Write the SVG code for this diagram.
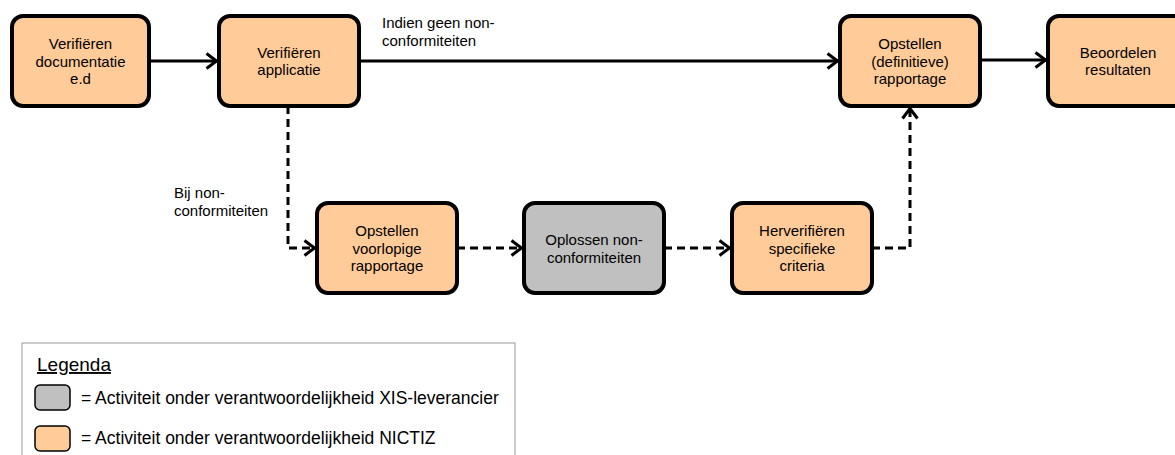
<svg xmlns="http://www.w3.org/2000/svg" width="1175" height="455" viewBox="0 0 1175 455">
<style>
.n rect{stroke:#000;stroke-width:4}
.o{fill:#FFCC99}
.g{fill:#C0C0C0}
text{font-family:"Liberation Sans",Arial,sans-serif;fill:#000}
.t{font-size:15px;text-anchor:middle}
.l{font-size:15px}
.lg{font-size:17.5px}
.c{fill:none;stroke:#000;stroke-width:3}
.d{stroke-dasharray:8 5}
</style>
<defs>
<marker id="a" viewBox="0 0 13 18" refX="12" refY="9" markerWidth="13" markerHeight="18" markerUnits="userSpaceOnUse" orient="auto">
<path d="M1.5,1.5 L11.5,9 L1.5,16.5" fill="none" stroke="#000" stroke-width="3"/>
</marker>
</defs>
<rect width="1175" height="455" fill="#fff"/>
<g id="connectors">
<path class="c" d="M149,61 H217" marker-end="url(#a)"/>
<path class="c" d="M359,61 H838" marker-end="url(#a)"/>
<path class="c" d="M980,60 H1046" marker-end="url(#a)"/>
<path class="c d" d="M288,106 V248 H315" marker-end="url(#a)"/>
<path class="c d" d="M457,248 H522" marker-end="url(#a)"/>
<path class="c d" d="M664,248 H730" marker-end="url(#a)"/>
<path class="c d" d="M872,248 H910 V108" marker-end="url(#a)"/>
<text class="l" x="382" y="28">Indien geen non-</text>
<text class="l" x="382" y="46">conformiteiten</text>
<text class="l" x="174" y="198">Bij non-</text>
<text class="l" x="174" y="216">conformiteiten</text>
</g>
<g id="n1" class="n"><rect class="o" x="12" y="16" width="137" height="90" rx="11"/>
<text class="t" x="80.5" y="49">Verifiëren</text><text class="t" x="80.5" y="66.5">documentatie</text><text class="t" x="80.5" y="84">e.d</text></g>
<g id="n2" class="n"><rect class="o" x="219" y="16" width="140" height="90" rx="11"/>
<text class="t" x="289" y="57.5">Verifiëren</text><text class="t" x="289" y="75">applicatie</text></g>
<g id="n3" class="n"><rect class="o" x="840" y="16" width="140" height="90" rx="11"/>
<text class="t" x="910" y="49">Opstellen</text><text class="t" x="910" y="66.5">(definitieve)</text><text class="t" x="910" y="84">rapportage</text></g>
<g id="n4" class="n"><rect class="o" x="1048" y="16" width="140" height="90" rx="11"/>
<text class="t" x="1118" y="57.5">Beoordelen</text><text class="t" x="1118" y="75">resultaten</text></g>
<g id="n5" class="n"><rect class="o" x="317" y="203" width="140" height="90" rx="11"/>
<text class="t" x="387" y="236">Opstellen</text><text class="t" x="387" y="253.5">voorlopige</text><text class="t" x="387" y="271">rapportage</text></g>
<g id="n6" class="n"><rect class="g" x="524" y="203" width="140" height="90" rx="11"/>
<text class="t" x="594" y="245">Oplossen non-</text><text class="t" x="594" y="262.5">conformiteiten</text></g>
<g id="n7" class="n"><rect class="o" x="732" y="203" width="140" height="90" rx="11"/>
<text class="t" x="802" y="236">Herverifiëren</text><text class="t" x="802" y="253.5">specifieke</text><text class="t" x="802" y="271">criteria</text></g>
<g id="legend">
<rect x="22" y="343" width="493" height="130" fill="#fff" stroke="#999" stroke-width="1"/>
<text x="37" y="371" style="font-size:19px" text-decoration="underline">Legenda</text>
<rect x="35" y="385" width="35" height="25" rx="5" class="g" stroke="#000" stroke-width="1.5"/>
<text class="lg" x="81" y="404">= Activiteit onder verantwoordelijkheid XIS-leverancier</text>
<rect x="35" y="426" width="35" height="25" rx="5" class="o" stroke="#000" stroke-width="1.5"/>
<text class="lg" x="81" y="444">= Activiteit onder verantwoordelijkheid NICTIZ</text>
</g>
</svg>
